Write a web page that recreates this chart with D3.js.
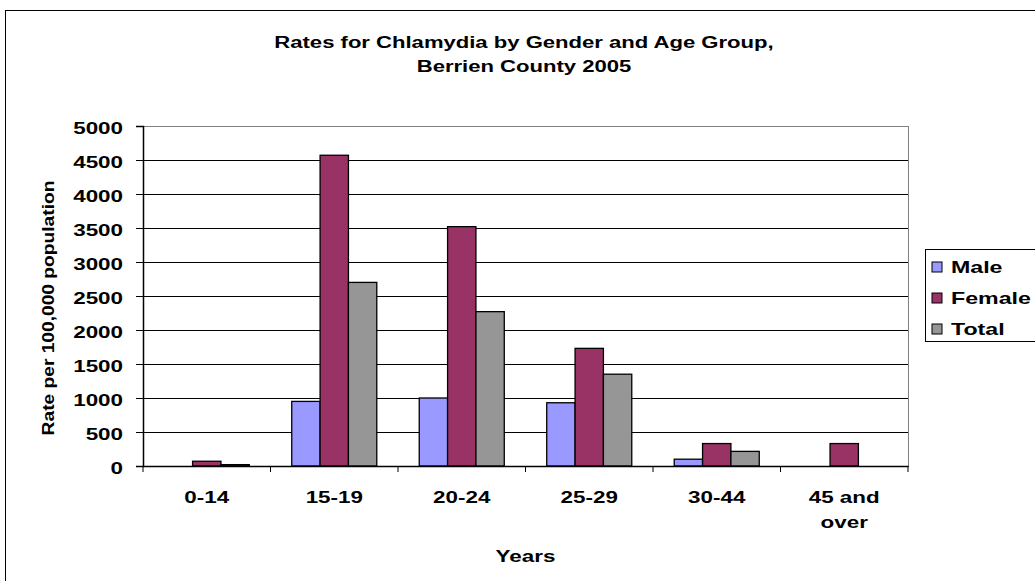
<!DOCTYPE html>
<html>
<head>
<meta charset="utf-8">
<script src="https://cdn.jsdelivr.net/npm/d3@7"></script>
<style>
  body { margin: 0; background: #fff; }
  svg { font-family: "Liberation Sans", Arial, sans-serif; font-weight: bold; }
</style>
</head>
<body>
<div id="chart"></div>
<script>
const categories = ["0-14", "15-19", "20-24", "25-29", "30-44", "45 and over"];
const seriesNames = ["Male", "Female", "Total"];
const male = [0, 950, 1000, 930, 100, 0];
const female = [70, 4570, 3520, 1730, 330, 330];
const total = [20, 2700, 2270, 1350, 215, 0];
const yTicks = [0, 500, 1000, 1500, 2000, 2500, 3000, 3500, 4000, 4500, 5000];
const colors = ["#9999ff", "#993366", "#969696"];

const W = 1035, H = 581;
const margin = { top: 126, right: 127, bottom: 115, left: 143 };
const width = W - margin.left - margin.right,
  height = H - margin.top - margin.bottom;
const SX = 1.4; // the original text is drawn wide

// stretch a text horizontally about its own anchor point
function stretch(sel, k) {
  sel.each(function () {
    const t = d3.select(this);
    const x = +t.attr("x") || 0, y = +t.attr("y") || 0;
    t.attr("transform", "translate(" + x + "," + y + ") scale(" + k + ",1) translate(" + (-x) + "," + (-y) + ")");
  });
}

const svg = d3.select("#chart").append("svg")
  .attr("width", W).attr("height", H);

// outer chart border
svg.append("rect")
  .attr("x", 5.5).attr("y", 10.5)
  .attr("width", W + 10).attr("height", H + 10)
  .attr("fill", "none").attr("stroke", "#000");

const g = svg.append("g")
  .attr("transform", "translate(" + margin.left + "," + margin.top + ")");

const x0 = d3.scaleBand().domain(categories).range([0, width]).paddingInner(0.333).paddingOuter(0.1667);
const x1 = d3.scaleBand().domain(seriesNames).range([0, x0.bandwidth()]);
const y = d3.scaleLinear().domain([0, 5000]).range([height, 0]);

// gridlines
g.selectAll(".grid").data(yTicks.filter(d => d > 0 && d < 5000)).enter()
  .append("line")
  .attr("x1", 0).attr("x2", width)
  .attr("y1", d => Math.round(y(d)) + 0.5).attr("y2", d => Math.round(y(d)) + 0.5)
  .attr("stroke", "#000");

// plot border (gray)
g.append("rect")
  .attr("x", 0.5).attr("y", 0.5)
  .attr("width", width).attr("height", height)
  .attr("fill", "none").attr("stroke", "#808080");

const rows = categories.map((c, i) => ({ cat: c, vals: [male[i], female[i], total[i]] }));

g.selectAll(".grp").data(rows).enter()
  .append("g")
  .attr("transform", d => "translate(" + x0(d.cat) + ",0)")
  .selectAll("rect")
  .data(d => d.vals.map((v, j) => ({ name: seriesNames[j], v: v, c: colors[j] })).filter(d => d.v > 0))
  .enter().append("rect")
  .attr("x", d => x1(d.name))
  .attr("y", d => y(d.v))
  .attr("width", x1.bandwidth())
  .attr("height", d => height - y(d.v))
  .attr("fill", d => d.c)
  .attr("stroke", "#000")
  .attr("stroke-width", 1.3);

// y axis
const yAxis = g.append("g")
  .call(d3.axisLeft(y).tickValues(yTicks).tickSize(7).tickPadding(13).tickFormat(d3.format("d")));
yAxis.select(".domain").attr("stroke", "#000").attr("stroke-width", 1.5);
yAxis.selectAll("text").attr("font-size", 16).attr("font-weight", "bold").attr("fill", "#000")
  .attr("dy", "0.45em")
  .attr("font-family", "Liberation Sans, Arial, sans-serif")
  .call(stretch, SX);

// x axis
const xAxis = g.append("g")
  .attr("transform", "translate(0," + height + ")")
  .call(d3.axisBottom(x0).tickSize(0).tickFormat(""));
xAxis.select(".domain").attr("stroke", "#000").attr("stroke-width", 1.5);

// x ticks between categories
const bounds = d3.range(categories.length + 1).map(i => i * width / categories.length);
g.selectAll(".xtick").data(bounds).enter()
  .append("line")
  .attr("x1", d => d).attr("x2", d => d)
  .attr("y1", height).attr("y2", height + 6)
  .attr("stroke", "#000");

// x labels (wrap "45 and over")
const xl = g.selectAll(".xl").data(categories).enter()
  .append("text")
  .attr("text-anchor", "middle")
  .attr("font-size", 16)
  .attr("x", d => x0(d) + x0.bandwidth() / 2)
  .attr("y", height + 37);
xl.each(function (d) {
  const parts = d === "45 and over" ? ["45 and", "over"] : [d];
  d3.select(this).selectAll("tspan").data(parts).enter().append("tspan")
    .attr("x", x0(d) + x0.bandwidth() / 2)
    .attr("dy", (p, i) => i === 0 ? 0 : 25)
    .text(p => p);
});
xl.call(stretch, SX);

// axis titles
svg.append("text")
  .attr("x", margin.left + width / 2).attr("y", 562)
  .attr("text-anchor", "middle").attr("font-size", 16)
  .text("Years")
  .call(stretch, SX);

svg.append("text")
  .attr("transform", "translate(54,308) rotate(-90) scale(1.2,1)")
  .attr("text-anchor", "middle").attr("font-size", 16)
  .text("Rate per 100,000 population");

// title
svg.append("text")
  .attr("x", 524).attr("y", 48)
  .attr("text-anchor", "middle").attr("font-size", 16)
  .text("Rates for Chlamydia by Gender and Age Group,")
  .call(stretch, 1.38);
svg.append("text")
  .attr("x", 524).attr("y", 72)
  .attr("text-anchor", "middle").attr("font-size", 16)
  .text("Berrien County 2005")
  .call(stretch, 1.38);

// legend
const legend = svg.append("g").attr("transform", "translate(925,249)");
legend.append("rect")
  .attr("x", 0.5).attr("y", 0.5).attr("width", 130).attr("height", 92)
  .attr("fill", "#fff").attr("stroke", "#000");
const li = legend.selectAll(".li").data(seriesNames).enter()
  .append("g")
  .attr("transform", (d, i) => "translate(7," + (13 + i * 31) + ")");
li.append("rect")
  .attr("width", 10).attr("height", 10)
  .attr("fill", (d, i) => colors[i]).attr("stroke", "#000");
li.append("text")
  .attr("x", 19).attr("y", 11)
  .attr("font-size", 16)
  .text(d => d)
  .call(stretch, 1.45);
</script>
</body>
</html>
